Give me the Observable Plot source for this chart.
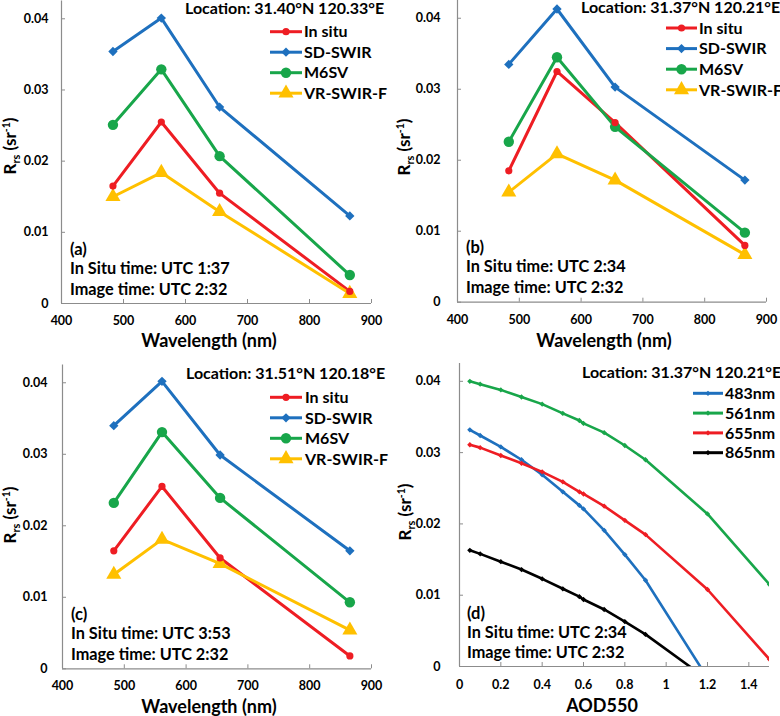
<!DOCTYPE html>
<html>
<head>
<meta charset="utf-8">
<script src="https://cdn.jsdelivr.net/npm/d3@7"></script>
<script src="https://cdn.jsdelivr.net/npm/@observablehq/plot@0.6"></script>
<style>
  html, body { margin: 0; padding: 0; background: #fff; }
  #wrap { position: relative; width: 780px; height: 716px; overflow: hidden; background: #fff; }
  .panel { position: absolute; }
  svg { overflow: hidden; }
</style>
</head>
<body>
<div id="wrap">
  <div class="panel" id="pa" style="left:0;top:0"></div>
  <div class="panel" id="pb" style="left:390px;top:0"></div>
  <div class="panel" id="pc" style="left:0;top:360px"></div>
  <div class="panel" id="pd" style="left:390px;top:360px"></div>
</div>
<script>
// ---------- data ----------
const wavelengths = [483, 561, 655, 865];
const methodNames = ["In situ", "SD-SWIR", "M6SV", "VR-SWIR-F"];

const a_insitu = [0.0165, 0.0255, 0.0155, 0.0017];
const a_sdswir = [0.0354, 0.0401, 0.0276, 0.0123];
const a_m6sv   = [0.0251, 0.0329, 0.0207, 0.0040];
const a_vrswir = [0.0150, 0.0184, 0.0129, 0.0014];

const b_insitu = [0.0185, 0.0325, 0.0253, 0.0080];
const b_sdswir = [0.0335, 0.0413, 0.0303, 0.0172];
const b_m6sv   = [0.0226, 0.0345, 0.0247, 0.0098];
const b_vrswir = [0.0155, 0.0209, 0.0172, 0.0067];

const c_insitu = [0.0165, 0.0255, 0.0155, 0.0018];
const c_sdswir = [0.0340, 0.0402, 0.0299, 0.0165];
const c_m6sv   = [0.0232, 0.0331, 0.0239, 0.0093];
const c_vrswir = [0.0132, 0.0181, 0.0147, 0.0054];

const aod = [0.05, 0.1, 0.2, 0.3, 0.4, 0.5, 0.58, 0.6, 0.7, 0.8, 0.9, 1.2, 1.5];
const bandNames = ["483nm", "561nm", "655nm", "865nm"];
const d_483 = [0.0332, 0.0324, 0.0308, 0.0290, 0.0269, 0.0245, 0.0226, 0.0221, 0.0191, 0.0157, 0.0121, -0.0016, null];
const d_561 = [0.0400, 0.0396, 0.0388, 0.0378, 0.0368, 0.0355, 0.0345, 0.0341, 0.0328, 0.0310, 0.0290, 0.0214, 0.0115];
const d_655 = [0.0311, 0.0307, 0.0296, 0.0285, 0.0273, 0.0259, 0.0245, 0.0242, 0.0225, 0.0205, 0.0185, 0.0108, 0.0010];
const d_865 = [0.0163, 0.0158, 0.0147, 0.0136, 0.0123, 0.0109, 0.0098, 0.0094, 0.0080, 0.0063, 0.0045, -0.0018, null];

const wlTicks = [400, 500, 600, 700, 800, 900];
const aodTicks = [0, 0.2, 0.4, 0.6, 0.8, 1, 1.2, 1.4];
const rrsTicks = [0, 0.01, 0.02, 0.03, 0.04];

const locations = ["Location: 31.40°N 120.33°E", "Location: 31.37°N 120.21°E", "Location: 31.51°N 120.18°E", "Location: 31.37°N 120.21°E"];
const panelTags = ["(a)", "(b)", "(c)", "(d)"];
const inSituTimes = ["In Situ time: UTC 1:37", "In Situ time: UTC 2:34", "In Situ time: UTC 3:53", "In Situ time: UTC 2:34"];
const imageTimes = ["Image time: UTC 2:32", "Image time: UTC 2:32", "Image time: UTC 2:32", "Image time: UTC 2:32"];

// ---------- styles ----------
const FONT = "Lato, 'Open Sans', sans-serif";
const AXIS = "#8c8c8c";
const methodColors = ["#EE1D23", "#1E70BE", "#18A64A", "#FFC000"];
const methodSymbols = ["circle", "diamond2", "circle", "triangle"];
const methodR = [3.6, 4.2, 5.2, 5.6];
const bandColors = ["#1E70BE", "#18A64A", "#EE1D23", "#000000"];

function tidy(xs, names, arrays) {
  const rows = [];
  arrays.forEach((arr, i) => arr.forEach((v, j) => {
    rows.push({x: xs[j], y: v, s: names[i], r: 0});
  }));
  return rows;
}

const fmt = d => String(+d.toFixed(3));
const d3sym = {circle: d3.symbolCircle, diamond2: d3.symbolDiamond2, triangle: d3.symbolTriangle};

function makePanel(cfg) {
  const W = 390, H = cfg.height;
  const innerW = W - cfg.ml - cfg.mr;
  const innerH = H - cfg.mt - cfg.mb;
  const rows = tidy(cfg.xs, cfg.names, cfg.series);
  const rIdx = new Map(cfg.names.map((n, i) => [n, cfg.radii[i]]));
  rows.forEach(d => d.r = rIdx.get(d.s));
  const valid = rows.filter(d => d.y != null);
  const svg = Plot.plot({
    width: W, height: H,
    marginLeft: cfg.ml, marginRight: cfg.mr, marginTop: cfg.mt, marginBottom: cfg.mb,
    style: {fontFamily: FONT, fontSize: "12.5px", fontWeight: "bold", color: "#000", background: "#fff", overflow: "hidden"},
    x: {domain: cfg.xDomain},
    y: {domain: [0, 0.0425]},
    color: {domain: cfg.names, range: cfg.colors},
    symbol: {domain: cfg.names, range: cfg.symbols},
    r: {type: "identity"},
    marks: [
      Plot.axisX({ticks: cfg.xTicks, tickSize: 0, tickPadding: cfg.xPad, tickFormat: fmt, label: null, fill: "#000"}),
      Plot.axisY({ticks: rrsTicks, tickSize: 0, tickPadding: cfg.yPad, tickFormat: fmt, label: null, fill: "#000"}),
      Plot.tickY(rrsTicks, {y: d => d, stroke: AXIS, insetRight: innerW - 4}),
      Plot.tickX(cfg.xTicks, {x: d => d, stroke: AXIS, insetTop: innerH - 4}),
      Plot.ruleX([cfg.xDomain[0]], {stroke: AXIS, strokeWidth: 1.2}),
      Plot.ruleY([0], {stroke: AXIS, strokeWidth: 1.2}),
      Plot.line(rows, {x: "x", y: "y", z: "s", stroke: "s", strokeWidth: cfg.lineW, clip: true}),
      Plot.dot(valid, {x: "x", y: "y", fill: "s", symbol: "s", r: "r", clip: true})
    ]
  });

  const g = d3.select(svg).append("g")
    .attr("font-family", FONT).attr("font-weight", "bold").attr("fill", "#000")
    .attr("text-anchor", "start").style("text-anchor", "start");

  // location
  g.append("text").attr("x", cfg.loc[0]).attr("y", cfg.loc[1])
    .attr("font-size", "16px").text(cfg.location);

  // legend
  cfg.names.forEach((n, i) => {
    const cy = cfg.leg.y0 + i * cfg.leg.dy;
    g.append("line").attr("x1", cfg.leg.x1).attr("x2", cfg.leg.x2)
      .attr("y1", cy).attr("y2", cy).attr("stroke", cfg.colors[i]).attr("stroke-width", 3);
    const r = cfg.legR[i];
    g.append("path")
      .attr("transform", `translate(${(cfg.leg.x1 + cfg.leg.x2) / 2},${cy})`)
      .attr("d", d3.symbol().type(d3sym[cfg.symbols[i]]).size(Math.PI * r * r)())
      .attr("fill", cfg.colors[i]);
    g.append("text").attr("x", cfg.leg.tx).attr("y", cy + 5.7)
      .attr("font-size", "16px").text(n);
  });

  // annotations
  g.append("text").attr("x", cfg.ann.x).attr("y", cfg.ann.y[0]).attr("font-size", "16.5px").text(cfg.tag);
  g.append("text").attr("x", cfg.ann.x).attr("y", cfg.ann.y[1]).attr("font-size", "16.3px").text(cfg.inSitu);
  g.append("text").attr("x", cfg.ann.x).attr("y", cfg.ann.y[2]).attr("font-size", "16.3px").text(cfg.image);

  // x-axis title
  g.append("text").attr("x", cfg.xl[0]).attr("y", cfg.xl[1]).attr("text-anchor", "middle").style("text-anchor", "middle")
    .attr("font-size", "18px").text(cfg.xTitle);

  // y-axis title with sub/superscripts
  const yt = g.append("text").attr("transform", `translate(${cfg.yl[0]},${cfg.yl[1]}) rotate(-90)`)
    .attr("text-anchor", "middle").style("text-anchor", "middle").attr("font-size", "17px");
  yt.append("tspan").text("R");
  yt.append("tspan").attr("font-size", "11px").attr("dy", 4).text("rs");
  yt.append("tspan").attr("dy", -4).text(" (sr");
  yt.append("tspan").attr("font-size", "10.5px").attr("dy", -6).text("-1");
  yt.append("tspan").attr("dy", 6).text(")");

  document.getElementById(cfg.el).appendChild(svg);
}

const wlCommon = {
  xs: wavelengths, names: methodNames, colors: methodColors, symbols: methodSymbols,
  radii: methodR, legR: methodR, xDomain: [400, 900], xTicks: wlTicks, lineW: 3,
  xTitle: "Wavelength (nm)"
};

makePanel(Object.assign({}, wlCommon, {
  el: "pa", height: 358, ml: 61, mr: 19, mt: 0.5, mb: 55, xPad: 13, yPad: 13,
  series: [a_insitu, a_sdswir, a_m6sv, a_vrswir],
  location: locations[0], loc: [185, 14],
  leg: {x1: 270, x2: 302, tx: 304, y0: 31.7, dy: 20.5},
  tag: panelTags[0], inSitu: inSituTimes[0], image: imageTimes[0],
  ann: {x: 70, y: [254.5, 273.5, 295]},
  xl: [209, 347], yl: [16, 146]
}));

makePanel(Object.assign({}, wlCommon, {
  el: "pb", height: 358, ml: 67, mr: 14, mt: 0, mb: 56.3, xPad: 13, yPad: 17,
  series: [b_insitu, b_sdswir, b_m6sv, b_vrswir],
  location: locations[1], loc: [191, 12.5],
  leg: {x1: 276, x2: 307, tx: 309, y0: 28, dy: 20.6},
  tag: panelTags[1], inSitu: inSituTimes[1], image: imageTimes[1],
  ann: {x: 76, y: [252.5, 272, 293]},
  xl: [214, 346.5], yl: [20, 147]
}));

makePanel(Object.assign({}, wlCommon, {
  el: "pc", height: 356, ml: 62, mr: 19, mt: 4.4, mb: 47.7, xPad: 12, yPad: 15,
  series: [c_insitu, c_sdswir, c_m6sv, c_vrswir],
  location: locations[2], loc: [186, 18.5],
  leg: {x1: 270, x2: 302, tx: 305, y0: 37.3, dy: 20.5},
  tag: panelTags[2], inSitu: inSituTimes[2], image: imageTimes[2],
  ann: {x: 71, y: [259.5, 279, 300]},
  xl: [209, 352.5], yl: [16, 155]
}));

makePanel({
  el: "pd", height: 356, ml: 69, mr: 11, mt: 3, mb: 50, xPad: 14, yPad: 19,
  xs: aod, names: bandNames, colors: bandColors,
  symbols: ["diamond2", "diamond2", "diamond2", "diamond2"],
  radii: [2.4, 2.4, 2.4, 2.4], legR: [2.4, 2.4, 2.4, 2.4],
  xDomain: [0, 1.5], xTicks: aodTicks, lineW: 2.6, xTitle: "AOD550",
  series: [d_483, d_561, d_655, d_865],
  location: locations[3], loc: [192, 17.5],
  leg: {x1: 303, x2: 333, tx: 335, y0: 33.3, dy: 19.8},
  tag: panelTags[3], inSitu: inSituTimes[3], image: imageTimes[3],
  ann: {x: 77, y: [258.5, 277.5, 298]},
  xl: [212, 351.5], yl: [21, 152]
});
</script>
</body>
</html>
